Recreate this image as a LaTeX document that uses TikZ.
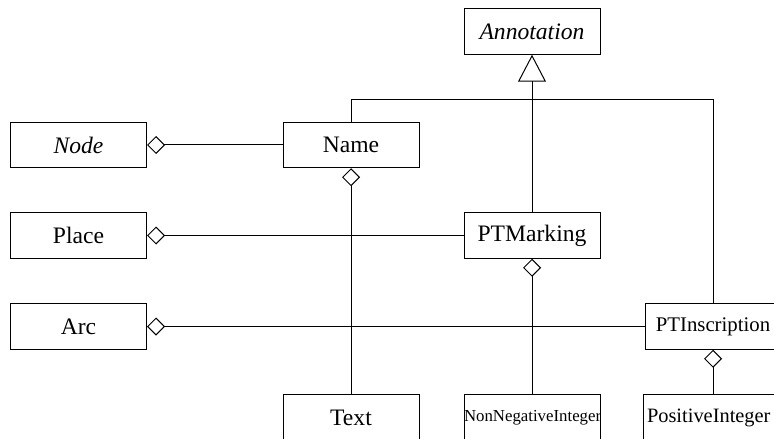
\documentclass[tikz,border=0pt]{standalone}
\usepackage{fontspec}
\setmainfont{Liberation Serif}
\usetikzlibrary{arrows.meta}
\newcommand{\boxwd}{68pt}
\newcommand{\boxht}{22.75pt}
\tikzset{
  cls/.style={draw, minimum width=\boxwd, minimum height=\boxht, inner sep=0pt,
    font=\fontsize{11.8}{14}\selectfont},
  agg/.style={{Diamond[open,length=9pt,width=9pt]}-},
  gen/.style={-{Triangle[open,length=13.5pt,width=14pt]}}
}

\begin{document}
\begin{tikzpicture}[x=.5pt,y=-.5pt,line width=.5pt]
  \useasboundingbox (0,0) rectangle (774,438);
  \clip (0,0) rectangle (774,438);
      % left column
      \foreach \n/\y/\t in {node/145/\textit{Node},place/235.5/Place,arc/326.5/Arc}
      {
        \node (\n) at (78.5,\y) [cls] {\t};
      }
      \node (annotation) at (532,31.5) [cls] {\textit{Annotation}};
      \node (name) at (351,145) [cls] {Name};
      \node (marking) at (532,235.5) [cls] {PTMarking};
      \node (inscription) at (713,326.5) [cls, font=\fontsize{10.4}{12}\selectfont] {PTInscription};
      \node (text) at (351,417.5) [cls] {Text};
      \node (nonneg) at (532,417.5) [cls, text width=\boxwd, align=center,
        font=\fontsize{8.4}{10}\selectfont] {NonNegativeInteger};
      \node (posint) at (713,417.5) [cls, text width=66pt, inner xsep=2pt, align=left,
        font=\fontsize{10.2}{12}\selectfont] {PositiveInteger};
      \coordinate (bus) at (532,99.5);

      \draw[gen] (marking.north) -- (annotation.south);
      \draw (name.north) |- (bus) -| (inscription.north);
      \draw[agg] (node.east) -- (name.west);
      \draw[agg] (name.south) -- (text.north);
      \draw[agg] (place.east) -- (marking.west);
      \draw[agg] (arc.east) -- (inscription.west);
      \draw[agg] (marking.south) -- (nonneg.north);
      \draw[agg] (inscription.south) -- (posint.north);
\end{tikzpicture}
\end{document}
